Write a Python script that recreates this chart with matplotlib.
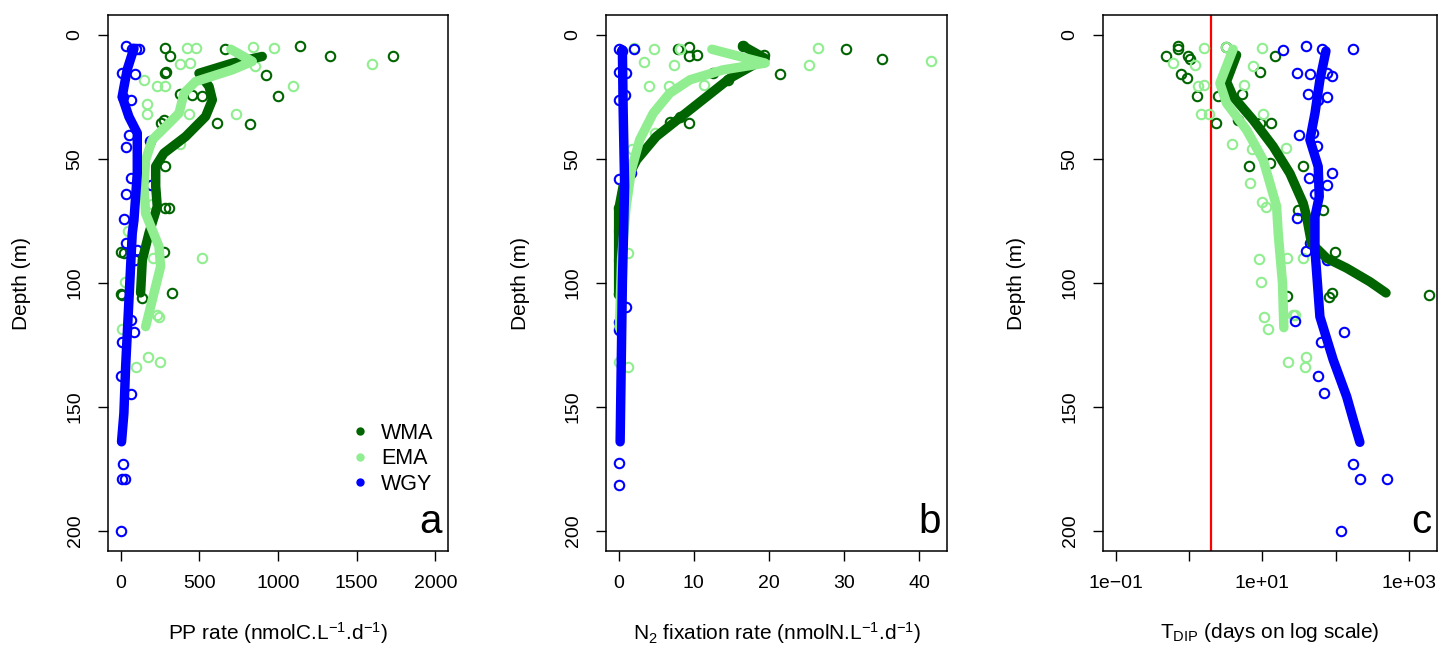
import matplotlib
matplotlib.use("Agg")
import matplotlib.pyplot as plt
from matplotlib.lines import Line2D

plt.rcParams['font.family'] = ['Liberation Sans', 'DejaVu Sans']
plt.rcParams['mathtext.fontset'] = 'custom'
plt.rcParams['mathtext.rm'] = 'Liberation Sans'
plt.rcParams['mathtext.it'] = 'Liberation Sans:italic'
plt.rcParams['mathtext.bf'] = 'Liberation Sans:bold'

groups = ['WMA', 'EMA', 'WGY']
colors = {'WMA': '#006400', 'EMA': '#90EE90', 'WGY': '#0000FF'}

# ---- panel a : PP rate, points (value, depth) ----
pp_wma_val = [284, 311, 664, 1140, 1333, 1732, 922, 998, 285, 288, 377, 451, 519, 254, 277,
              614, 822, 282, 285, 307, 2, 21, 275, 0, 6, 138, 324]
pp_wma_dep = [5.1, 8.5, 5.8, 4.4, 8.7, 8.7, 16.1, 24.5, 15.3, 14.8, 23.8, 24.2, 24.5, 35.4, 34.5,
              35.4, 36, 52.8, 69.9, 69.6, 87.6, 87.8, 87.6, 104.6, 105, 106, 104]
pp_ema_val = [424, 477, 842, 973, 1600, 379, 439, 854, 148, 233, 282, 1098, 165, 165, 434, 731,
              375, 201, 46, 207, 515, 27, 233, 244, 6, 174, 248, 99]
pp_ema_dep = [5.1, 5.1, 5.0, 5.1, 11.8, 11.8, 11.2, 12.5, 18.1, 20.6, 20.8, 20.6, 27.9, 32, 32, 32,
              44, 68, 79, 90, 90, 99.7, 113, 113.6, 118.7, 130, 132, 134]
pp_wgy_val = [32, 74, 116, 95, 10, 91, 17, 64, 186, 53, 32, 67, 191, 32, 21, 32, 102, 91, 67, 85,
              6, 0, 67, 15, 6, 27, 0]
pp_wgy_dep = [4.3, 5.8, 5.8, 5.8, 15.2, 15.8, 25, 26.4, 42.6, 40.3, 45, 57.8, 60.5, 64, 74.3, 84,
              86.6, 90.7, 115, 119.9, 123.7, 137.5, 144.8, 173, 179, 179, 200]
# smoothed profiles
pp_wma_fit_dep = [8.7, 11.4, 15.5, 20.8, 26.2, 32.9, 41, 47.7, 53, 61, 69.2, 80, 90.7, 104]
pp_wma_fit_val = [900, 710, 498, 562, 583, 540, 413, 275, 223, 223, 233, 180, 138, 127]
pp_ema_fit_dep = [5.8, 10.7, 14.1, 18.8, 23.5, 31.6, 37, 42.3, 50.4, 61, 72, 85.3, 93.4, 106.9, 117.6]
pp_ema_fit_val = [700, 837, 710, 477, 403, 371, 286, 201, 159, 148, 159, 244, 254, 201, 159]
pp_wgy_fit_dep = [5.4, 14, 24.9, 33, 39.6, 55.8, 74.6, 80, 106.9, 133.7, 152.5, 164]
pp_wgy_fit_val = [85, 42, 10, 53, 106, 106, 85, 74, 53, 32, 21, 6]

# ---- panel b : N2 fixation ----
nf_wma_val = [7.9, 9.3, 9.3, 10.4, 16.5, 19.3, 30.3, 35.1, 21.5, 14.6, 12.6, 6.8, 8.1, 9.3, 0, 0]
nf_wma_dep = [5.8, 5.0, 8.7, 8.1, 4.3, 8.1, 5.6, 9.8, 15.9, 18.1, 15.2, 35, 33, 35.6, 69.9, 104.6]
nf_ema_val = [2.1, 4.7, 8.1, 26.5, 25.3, 41.5, 3.4, 7.3, 4.0, 6.7, 11.3, 4.8, 1.8, 0, 0, 1.2, 0, 0, 1.2]
nf_ema_dep = [5.4, 5.8, 5.6, 5.1, 12.1, 10.7, 11, 12.1, 20.8, 20.8, 20.2, 39.4, 46, 79, 90.7, 88,
              118, 131.7, 133.7]
nf_wgy_val = [0.1, 2.0, 0.5, 0.1, 1.0, 0, 0.8, 1.6, 0, 1.0, 0, 0, 0.1, 0]
nf_wgy_dep = [5.6, 5.6, 6.5, 14.8, 15.5, 26.2, 24.2, 55.8, 58.2, 109.5, 115.6, 119, 172.4, 181.5]
nf_wma_fit_dep = [4.4, 9.5, 17.5, 30.2, 41, 50.4, 61, 70.6, 104.6]
nf_wma_fit_val = [16.5, 19.5, 14.8, 9.5, 5.0, 2.4, 0.6, 0, 0]
nf_ema_fit_dep = [5.8, 11.4, 14.1, 18.1, 23.5, 31.6, 42.3, 54.4, 69.2, 90, 118]
nf_ema_fit_val = [12.4, 19.5, 13.9, 9.5, 6.8, 4.6, 2.8, 1.7, 1.0, 0.4, 0.1]
nf_wgy_fit_dep = [6, 30, 61, 100, 164]
nf_wgy_fit_val = [0.5, 0.6, 0.8, 0.5, 0.2]

# ---- panel c : T_DIP (days) ----
td_wma_val = [0.70, 0.70, 0.49, 0.97, 1.02, 3.15, 14.9, 0.77, 0.93, 9.35, 1.29, 2.5, 5.3, 2.3, 9.3,
              13, 4.7, 6.5, 36.2, 12.7, 30.9, 66.7, 98, 21.5, 82, 88.5, 1905]
td_wma_dep = [4.3, 5.8, 8.7, 8.7, 9.8, 4.7, 8.5, 15.9, 17.5, 15, 24.6, 24.6, 23.8, 35.6, 35.6,
              35.4, 34.3, 52.7, 52.8, 51.7, 70.6, 70.6, 87.4, 105.2, 105.8, 104.2, 104.8]
td_ema_val = [1.59, 9.8, 0.61, 1.19, 7.5, 5.66, 1.33, 1.61, 1.48, 1.88, 10.3, 3.85, 7.3, 20.8, 6.9,
              9.8, 11.2, 9.1, 21.9, 35.5, 9.5, 10.5, 11.8, 26.4, 27.9, 22.8, 39.4, 38.2, 3.2]
td_ema_dep = [5.4, 5.1, 11.2, 12.1, 12.5, 20.2, 20.8, 20.4, 32, 32, 32, 44.1, 46.1, 45.7, 59.8,
              67.2, 69.5, 90.5, 90, 90, 99.7, 113.6, 118.7, 112.9, 113, 132, 130, 134, 5.0]
td_wgy_val = [19.3, 39, 64.6, 175, 29.4, 44.7, 75.5, 88.5, 42.4, 58, 75.5, 31.9, 49.6, 55.2, 88.5,
              43.8, 75.5, 52.4, 29.4, 44.7, 39.4, 77, 27.9, 131.5, 62.5, 58, 70, 171, 215, 508, 118.6]
td_wgy_dep = [6, 4.3, 5.8, 5.8, 15.2, 15.7, 15.4, 16.4, 23.8, 26.2, 25.1, 40.3, 39.6, 44.8, 55.8,
              57.8, 60.5, 64.1, 73.9, 84, 87.1, 90.7, 115.2, 119.6, 123.7, 137.5, 144.5, 173.1,
              179, 179, 200]
td_wma_fit_dep = [8.1, 18.8, 24.9, 34.3, 45, 55.8, 67.9, 73.3, 84, 90, 94, 99.5, 104]
td_wma_fit_val = [4.46, 3.25, 4.0, 7.5, 14.1, 23.8, 36.2, 40.3, 47, 75.5, 142, 295, 489]
td_ema_fit_dep = [5.8, 19.5, 27.5, 38.3, 50.4, 69.2, 80, 100.1, 118]
td_ema_fit_val = [4.0, 2.64, 3.25, 6.1, 10.3, 15.7, 16.5, 18.9, 19.7]
td_wgy_fit_dep = [6.5, 18.1, 31.6, 42.3, 53.1, 65.2, 73.3, 86.7, 113.6, 131, 145.8, 155.2, 164.2]
td_wgy_fit_val = [74, 61.2, 52.4, 44.7, 58, 59.9, 52.4, 52.4, 61.2, 93, 142, 175, 215]
td_threshold = 2

panels = [
    dict(pts={'WMA': (pp_wma_val, pp_wma_dep), 'EMA': (pp_ema_val, pp_ema_dep), 'WGY': (pp_wgy_val, pp_wgy_dep)},
         fit={'WMA': (pp_wma_fit_val, pp_wma_fit_dep), 'EMA': (pp_ema_fit_val, pp_ema_fit_dep),
              'WGY': (pp_wgy_fit_val, pp_wgy_fit_dep)},
         xlabel=r'PP rate (nmolC.L$^{-1}$.d$^{-1}$)', letter='a',
         rect=[108, 340], xlim=(-80, 2080), xticks=[0, 500, 1000, 1500, 2000],
         xticklabels=['0', '500', '1000', '1500', '2000'], log=False),
    dict(pts={'WMA': (nf_wma_val, nf_wma_dep), 'EMA': (nf_ema_val, nf_ema_dep), 'WGY': (nf_wgy_val, nf_wgy_dep)},
         fit={'WMA': (nf_wma_fit_val, nf_wma_fit_dep), 'EMA': (nf_ema_fit_val, nf_ema_fit_dep),
              'WGY': (nf_wgy_fit_val, nf_wgy_fit_dep)},
         xlabel=r'N$_2$ fixation rate (nmolN.L$^{-1}$.d$^{-1}$)', letter='b',
         rect=[606, 341], xlim=(-1.68, 43.68), xticks=[0, 10, 20, 30, 40],
         xticklabels=['0', '10', '20', '30', '40'], log=False),
    dict(pts={'WMA': (td_wma_val, td_wma_dep), 'EMA': (td_ema_val, td_ema_dep), 'WGY': (td_wgy_val, td_wgy_dep)},
         fit={'WMA': (td_wma_fit_val, td_wma_fit_dep), 'EMA': (td_ema_fit_val, td_ema_fit_dep),
              'WGY': (td_wgy_fit_val, td_wgy_fit_dep)},
         xlabel=r'T$_{\mathrm{DIP}}$ (days on log scale)', letter='c',
         rect=[1103, 334], xlim=(10 ** -1.174, 10 ** 3.385), xticks=[0.1, 1, 10, 100, 1000],
         xticklabels=['1e\u221201', '', '1e+01', '', '1e+03'], log=True),
]

W, H = 1446, 650
fig = plt.figure(figsize=(W / 100, H / 100), dpi=100)

for p in panels:
    left, width = p['rect']
    ax = fig.add_axes([left / W, (H - 551) / H, width / W, 536 / H])
    if p['log']:
        ax.set_xscale('log')
    for g in groups:
        xv, dv = p['pts'][g]
        ax.plot(xv, dv, 'o', mfc='none', mec=colors[g], mew=1.5, ms=6.8, zorder=2)
        fv, fd = p['fit'][g]
        ax.plot(fv, fd, '-', color=colors[g], lw=6.8, solid_capstyle='round',
                solid_joinstyle='round', zorder=3)
    if p['log']:
        ax.axvline(td_threshold, color='red', lw=1.6, zorder=1)
    ax.set_xlim(*p['xlim'])
    ax.set_ylim(208, -8)
    ax.set_xticks(p['xticks'])
    ax.set_xticklabels(p['xticklabels'])
    ax.minorticks_off()
    ax.set_yticks([0, 50, 100, 150, 200])
    ax.set_yticklabels(['0', '50', '100', '150', '200'], rotation=90, va='center')
    ax.tick_params(direction='out', length=7.5, width=1, labelsize=14, pad=10)
    for s in ax.spines.values():
        s.set_linewidth(1.1)
    ax.set_xlabel(p['xlabel'], fontsize=15, va='center')
    ax.xaxis.set_label_coords(0.5, -82 / 536)
    ax.set_ylabel('Depth (m)', fontsize=15, va='center')
    ax.yaxis.set_label_coords(-86 / width, 0.5)
    ax.text(0.982, 0.033, p['letter'], transform=ax.transAxes, ha='right',
            va='baseline', fontsize=29)
    if p['letter'] == 'a':
        handles = [Line2D([], [], marker='o', ls='', color=colors[g], ms=5) for g in groups]
        ax.legend(handles, groups, loc='upper left', bbox_to_anchor=(0.69, 0.255),
                  frameon=False, fontsize=15.5, handlelength=0.8, handletextpad=0.6,
                  labelspacing=0.2, borderaxespad=0)

fig.savefig('out.png', dpi=100)
